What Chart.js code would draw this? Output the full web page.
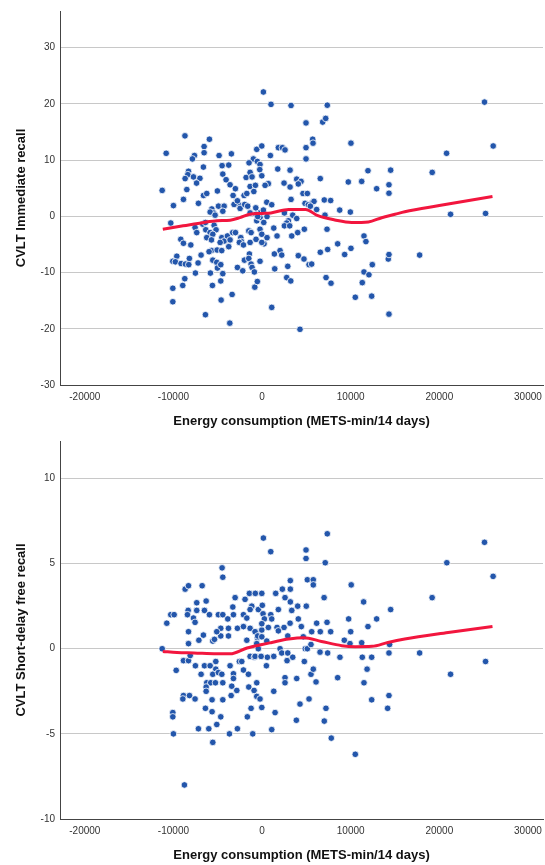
<!DOCTYPE html>
<html>
<head>
<meta charset="utf-8">
<script src="https://cdn.jsdelivr.net/npm/chart.js@4.4.1/dist/chart.umd.min.js"></script>
<style>
    body { margin: 0; background: #fff; }
    .panel { position: absolute; left: 0; }
</style>
</head>
<body>
<div class="panel" style="top:0"><canvas id="chartTop" width="545" height="430"></canvas></div>
<div class="panel" style="top:430px"><canvas id="chartBottom" width="545" height="435"></canvas></div>
<script>
// ── Axis ticks ───────────────────────────────────────────────
const xTicks       = [-20000, -10000, 0, 10000, 20000, 30000];
const topYTicks    = [-30, -20, -10, 0, 10, 20, 30];
const bottomYTicks = [-10, -5, 0, 5, 10];

// ── CVLT Immediate recall (residual scatter) ─────────────────
const topX = [
    150, -8700, -5940, -10820, -6540, -6540, -7630, -7860, -4850, -3460, -600, -30, -980, -530, -230,
    -8300, -8380, -6620, -4510, -3760, -1470, -8680, -7740, -7010, -7390, -4430, -4060, -3610, -1800, -1350,
    -1130, -11270, -8490, -8870, -6610, -6240, -7180, -5040, -3010, -3270, -2850, -2670, -3160, -2030, -1720,
    -1350, -750, -930, -10000, -10300, -5670, -5490, -5860, -5300, -4920, -4280, -4430, -2780, -2480, -1960,
    -1620, -7560, -7370, -6690, -6390, -6350, -5860, -6240, -5410, -5190, -5560, -5710, -4540, -4280, -4730,
    -3910, -3610, -3310, -3000, -3760, -2400, -2330, -2560, -2100, -1500, -1240, -1350, -680, -9170, -8870,
    -8040, -5710, -5980, -5070, -4550, -6880, -9620, -10070, -9780, -9140, -8650, -8200, -8270, -7220, -5560,
    -5110, -5040, -4660, -4430, -2780, -2180, -1990, -1430, -1500, -1240, -1130, -870, -7520, -5830, -8720,
    -8950, -10070, -5600, -4660, -820, -530, -10070, -4620, -3380, -6390, -3640, -230, -30, -600, -230,
    -370, 150, 190, -1350, -680,
    1010, 3270, 7360, 4960, 6840, 7180, 5710, 5750, 4960, 10030, 1840, 2290, 2590, 940, 4960,
    -260, -30, 1770, 3160, 6570, 3910, 4400, 4090, 2480, 3160, 710, 340, 9730, 11240, 11950,
    14510, 12930, 14320, 14320, 4620, 5110, 3270, 4850, 5220, 5670, 5860, 5450, 6160, 7020, 7740,
    530, 1090, -710, 560, -490, 2520, 3460, 3910, 7100, 8760, 9960, 2970, 2780, 2520, 3120,
    1320, 1690, 3350, 4020, 4770, 7330, 560, 225, -30, 1390, 2030, 2220, 1430, 2900, 4090,
    4730, 5300, 5600, 6570, 7400, 8530, 9320, 10030, 11500, 11720, 12440, 11500, 12060, 14240, 14320,
    2780, 3240, 7220, 7780, 11310, 12370, 10520, 1090, 4280, 14320, -230,
    25100, 26080, 20820, 19200, 21270, 25220, 17780
];
const topY = [
    22.1, 14.3, 13.7, 11.2, 12.4, 11.3, 10.8, 10.2, 10.8, 11.1, 11.9, 12.5, 10.2, 9.75, 9.2,
    8.0, 7.4, 8.75, 9.0, 9.1, 9.5, 6.7, 7.0, 6.75, 5.9, 7.5, 6.5, 5.6, 6.9, 7.8,
    7.0, 4.6, 4.75, 3.0, 3.7, 4.05, 2.3, 4.5, 4.9, 3.7, 2.7, 2.1, 2.1, 3.7, 4.05,
    5.3, 5.5, 4.4, 1.9, -1.2, 1.3, 0.6, 0.75, 0.2, 1.8, 1.8, 0.9, 2.75, 1.4, 2.1,
    1.8, -2.0, -2.9, -1.4, -1.1, -2.4, -2.9, -3.8, -1.6, -2.4, -3.2, -4.2, -3.8, -4.4, -4.65,
    -3.5, -4.2, -2.9, -2.9, -5.4, -3.8, -4.5, -4.65, -5.1, -2.6, -2.9, -4.65, -4.1, -4.1, -4.8,
    -5.1, -6.1, -6.3, -6.0, -6.1, -6.9, -7.1, -8.0, -8.1, -8.4, -8.5, -7.5, -8.6, -8.3, -7.8,
    -8.2, -9.2, -8.6, -10.2, -9.1, -9.7, -7.8, -6.7, -7.5, -8.5, -9.1, -9.9, -10.1, -10.1, -11.1,
    -12.3, -12.8, -12.3, -11.5, -12.6, -11.6, -15.2, -14.9, -13.9, -17.5, -19.0, -2.3, -3.2, -0.8, -0.2,
    0.6, 1.1, -1.1, 0.6, 0.35,
    19.9, 19.7, 19.75, 16.6, 16.75, 17.4, 13.7, 13.0, 12.2, 13.0, 12.2, 12.2, 11.8, 10.8, 10.2,
    8.3, 7.2, 8.4, 8.2, 6.7, 6.6, 6.2, 5.75, 5.9, 5.2, 5.8, 5.5, 6.1, 6.2, 8.1,
    8.2, 4.9, 5.6, 4.1, 4.05, 4.05, 3.0, 2.3, 2.05, 2.4, 2.65, 1.8, 1.2, 2.9, 2.8,
    2.5, 2.05, 1.5, -0.05, -0.05, 0.6, 0.2, -0.4, 0.2, 1.1, 0.75, -0.8, -1.2, -1.7, -1.7,
    -2.1, -3.5, -3.5, -2.9, -2.3, -2.3, -3.8, -4.9, -4.65, -6.7, -6.1, -6.9, -9.35, -8.9, -7.0,
    -7.6, -8.6, -8.5, -6.4, -5.9, -4.9, -6.8, -5.7, -3.5, -4.5, -8.6, -9.9, -10.4, -7.6, -6.8,
    -10.9, -11.5, -10.9, -11.9, -11.8, -14.2, -14.4, -16.2, -20.1, -17.4, -8.0,
    20.3, 12.5, 11.2, 7.8, 0.35, 0.5, -6.9
];
const topFitX = [-11200, -8900, -6600, -5100, -3600, -2500, -1400, 0, 1000, 3000, 4900, 6300, 8200, 10100, 12000, 13500, 15000, 16100, 20000, 26000];
const topFitY = [-2.3, -1.7, -1.1, -0.8, -0.7, -0.25, 0.35, 0.5, 0.6, 1.2, 1.2, 0.1, -0.65, -1.1, -1.0, -0.25, 0.35, 0.8, 1.9, 3.5];

// ── CVLT Short-delay free recall (residual scatter) ──────────
const bottomX = [
    150, -4510, -4430, -8680, -8300, -6760, -10750, -10300, -9920, -8340, -8420, -7370, -7370, -7740, -7560,
    -6310, -6500, -5940, -8300, -8300, -7130, -6620, -4930, -4430, -3870, -4660, -3790, -4660, -3790, -5110,
    -5560, -5370, -3300, -3040, -3230, -2780, -2100, -1920, -1430, -760, -30, -1160, -1350, -420, 30,
    -1720, -1350, -2100, -1720, -680, -30, -530, -11270, -9690, -8870, -8300, -8110, -7520, -6880, -6500,
    -5860, -5220, -5220, -5560, -4930, -4540, -3610, -3230, -3230, -2560, -2290, -2100, -1540, -1350, -870,
    -6240, -5790, -5260, -4430, -6310, -6310, -8870, -8940, -8190, -7560, -5640, -4430, -3490, -3420, -2850,
    -1500, -600, -900, -600, -230, -30, -1240, -10070, -10070, -10000, -6390, -5640, -4660, -5110, -7180,
    -6010, -3680, -2780, -1660, -1050, -5560, -8760,
    980, 4960, 4960, 7360, 7130, 5110, 5780, 5780, 3190, 10060, 2290, 3190, 2590, 3190, 3350,
    1840, 1540, 4020, 4990, 7000, 11460, 14510, 12930, 11950, 9770, 10000, 110, 980, 1090, 260,
    -30, 710, 1690, 2480, 1840, 2900, 3160, 4090, 4430, 6160, 6570, 7330, 7740, 5600, 4650,
    4880, 5110, 5520, 9280, 9920, 11240, 14390, -790, -490, -30, 530, -600, -420, -790, 2030,
    2220, 2900, 1320, 600, -110, 490, 3460, 2820, 4770, 6540, 7400, 8790, 11310, 12370, 14320,
    11850, 11500, 2590, 2590, 3910, 5520, 5780, 6090, 8530, 1320, 1470, 1090, 3870, 4280, 5300,
    7020, 7210, 7810, 10520, 12370, 14320, 14170,
    25100, 26070, 20850, 19190, 17780, 21270, 25220
];
const bottomY = [
    6.5, 4.75, 4.2, 3.5, 3.7, 3.7, 1.5, 2.0, 2.0, 2.25, 2.0, 2.7, 2.25, 1.8, 1.55,
    2.8, 2.25, 2.0, 1.0, 0.3, 0.5, 0.8, 2.0, 2.0, 1.75, 1.2, 1.2, 0.75, 0.75, 1.0,
    0.45, 0.55, 2.45, 3.0, 2.0, 1.2, 2.0, 2.9, 3.25, 3.25, 3.25, 2.5, 2.3, 2.3, 2.55,
    1.8, 1.2, 1.3, 0.5, 1.0, 1.1, 0.65, 0.0, -1.27, -0.7, -0.7, -0.4, -1.0, -1.5, -1.0,
    -1.0, -0.75, -1.2, -1.5, -1.4, -1.5, -1.0, -1.47, -1.75, -0.75, -0.75, -1.25, -1.5, -0.45, -0.5,
    -2.0, -2.0, -2.0, -2.0, -2.25, -2.5, -2.75, -2.95, -2.75, -2.95, -3.0, -3.0, -2.75, -2.2, -2.45,
    -2.25, -2.0, -2.45, -2.8, -2.95, -3.45, -3.5, -3.75, -4.0, -5.0, -3.5, -3.7, -4.0, -4.45, -4.7,
    -4.7, -5.0, -4.7, -4.0, -5.0, -5.5, -8.0,
    5.7, 5.8, 5.3, 6.75, 5.05, 4.05, 4.05, 3.75, 4.0, 3.75, 3.5, 3.5, 3.0, 2.75, 2.25,
    2.3, 3.25, 2.5, 2.5, 3.0, 2.75, 2.3, 1.75, 1.3, 1.75, 1.0, 2.05, 2.0, 1.75, 1.75,
    1.47, 1.25, 1.25, 1.25, 1.05, 0.75, 1.5, 1.75, 1.3, 1.5, 1.0, 1.55, 1.0, 1.0, 0.7,
    0.0, 0.0, 0.25, 0.5, 0.3, 0.35, 0.25, 1.0, 0.75, 0.7, 0.45, 0.3, 0.0, -0.45, 0.0,
    -0.25, -0.25, -0.45, -0.5, -0.45, -1.0, -0.5, -0.7, -0.75, -0.2, -0.25, -0.5, -0.5, -0.5, -0.25,
    -1.2, -2.0, -1.7, -2.0, -1.75, -1.5, -1.2, -1.95, -1.7, -2.5, -3.75, -4.75, -4.2, -3.25, -2.95,
    -4.25, -3.5, -5.25, -6.2, -3.0, -2.75, -3.5,
    6.25, 4.25, 5.05, 3.0, -0.25, -1.5, -0.75
];
const bottomFitX = [-11200, -9600, -7700, -5100, -3600, -1700, 0, 1100, 3000, 4700, 6700, 9000, 10500, 12400, 14200, 16100, 21000, 26000];
const bottomFitY = [-0.16, -0.22, -0.25, -0.3, -0.3, 0.04, 0.25, 0.37, 0.57, 0.65, 0.43, 0.18, 0.12, 0.14, 0.37, 0.57, 0.95, 1.31];

// ── Shared styling ───────────────────────────────────────────
const FONT      = "Arial, 'Liberation Sans', sans-serif";
const DOT_BLUE  = '#2356ab';
const FIT_RED   = '#f2163e';
const GRID_GREY = '#c8c8c8';
const AXIS_DARK = '#444444';

function toPoints(xs, ys) {
    return xs.map((x, i) => ({ x: x, y: ys[i] }));
}

function fixedTicks(values) {
    return function (scale) {
        scale.ticks = values.map(v => ({ value: v }));
    };
}

// plain numbers, no thousands separator
const plainLabel = v => String(v);

// ── Build one scatter + fit line panel ───────────────────────
function buildPanel(canvasId, cfg) {
    const ctx = document.getElementById(canvasId).getContext('2d');
    return new Chart(ctx, {
        type: 'scatter',
        data: {
            datasets: [{
                type: 'line',
                data: toPoints(cfg.fitX, cfg.fitY),
                borderColor: FIT_RED,
                borderWidth: 3,
                pointRadius: 0,
                fill: false,
                cubicInterpolationMode: 'monotone',
                order: 0
            }, {
                data: toPoints(cfg.x, cfg.y),
                backgroundColor: DOT_BLUE,
                borderColor: '#ffffff',
                borderWidth: 0.8,
                pointRadius: 3.3,
                order: 1
            }]
        },
        options: {
            responsive: false,
            animation: false,
            devicePixelRatio: 1,
            layout: {
                autoPadding: false,
                padding: { top: cfg.padTop, right: 2, left: 0, bottom: 0 }
            },
            plugins: {
                legend: { display: false },
                tooltip: { enabled: false }
            },
            scales: {
                x: {
                    type: 'linear',
                    min: -22800,
                    max: 31700,
                    afterBuildTicks: fixedTicks(xTicks),
                    afterFit: s => {
                        s.height = cfg.xAxisHeight;
                        s.paddingLeft = 0;
                        s.paddingRight = 0;
                    },
                    grid: { display: false, drawTicks: false },
                    border: { display: true, color: AXIS_DARK, width: 1 },
                    ticks: { font: { family: FONT, size: 10 }, color: '#333', padding: 6, maxRotation: 0, callback: plainLabel },
                    title: {
                        display: true,
                        text: 'Energy consumption (METS-min/14 days)',
                        font: { family: FONT, size: 13, weight: 'bold' },
                        color: '#111',
                        padding: { top: 0, bottom: cfg.xTitlePad }
                    }
                },
                y: {
                    type: 'linear',
                    min: cfg.yMin,
                    max: cfg.yMax,
                    afterBuildTicks: fixedTicks(cfg.yTicks),
                    afterFit: s => { s.width = 60; },
                    grid: { color: GRID_GREY, lineWidth: 1, drawTicks: false },
                    border: { display: true, color: AXIS_DARK, width: 1 },
                    ticks: { font: { family: FONT, size: 10 }, color: '#333', padding: 5, callback: plainLabel },
                    title: {
                        display: true,
                        text: cfg.yTitle,
                        font: { family: FONT, size: 13, weight: 'bold' },
                        color: '#111',
                        padding: { top: 14, bottom: 0 }
                    }
                }
            }
        }
    });
}

// ── Init ─────────────────────────────────────────────────────
buildPanel('chartTop', {
    x: topX, y: topY, fitX: topFitX, fitY: topFitY,
    yMin: -30, yMax: 36.5, yTicks: topYTicks,
    yTitle: 'CVLT Immediate recall',
    padTop: 8, xAxisHeight: 45, xTitlePad: 1.2
});

buildPanel('chartBottom', {
    x: bottomX, y: bottomY, fitX: bottomFitX, fitY: bottomFitY,
    yMin: -10, yMax: 12.2, yTicks: bottomYTicks,
    yTitle: 'CVLT Short-delay free recall',
    padTop: 11, xAxisHeight: 46, xTitlePad: 2.2
});
</script>
</body>
</html>
